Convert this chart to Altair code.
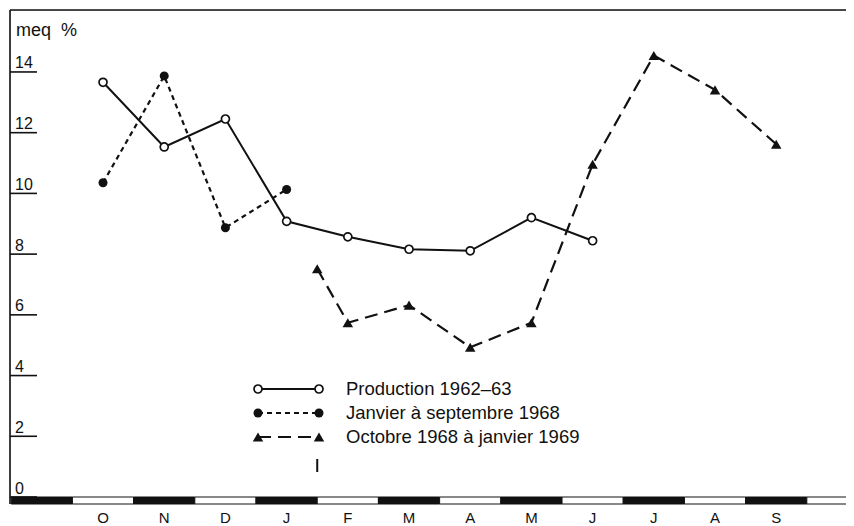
import altair as alt
import pandas as pd

# ---------------- data ----------------
months = ["O", "N", "D", "J", "F", "M", "A", "M", "J", "J", "A", "S"]

prod_x = [0, 1, 2, 3, 4, 5, 6, 7, 8]
prod_y = [13.66, 11.53, 12.45, 9.08, 8.57, 8.16, 8.11, 9.20, 8.44]

jan_x = [0, 1, 2, 3]
jan_y = [10.35, 13.87, 8.87, 10.13]

oct_x = [3.5, 4, 5, 6, 7, 8, 9, 10, 11]
oct_y = [7.52, 5.74, 6.32, 4.93, 5.74, 10.96, 14.54, 13.41, 11.62]

y_ticks = [0, 2, 4, 6, 8, 10, 12, 14]
series_names = ["Production 1962\u201363", "Janvier \u00e0 septembre 1968",
                "Octobre 1968 \u00e0 janvier 1969"]
y_unit = "meq\u00a0\u00a0%"

# ---------------- layout ----------------
W, H = 836, 487
PX_PER_MONTH = 61.2
PX_PER_UNIT = 30.36
X0 = -1.52
xdom = [X0, X0 + W / PX_PER_MONTH]
ydom = [0, H / PX_PER_UNIT]
FONT = "Liberation Sans"
INK = "#111111"

xs = alt.Scale(domain=xdom, nice=False, zero=False)
ys = alt.Scale(domain=ydom, nice=False, zero=False)
XQ = lambda f: alt.X(f, type="quantitative", scale=xs, axis=None)
YQ = lambda f: alt.Y(f, type="quantitative", scale=ys, axis=None)

prod_df = pd.DataFrame({"x": prod_x, "y": prod_y})
jan_df = pd.DataFrame({"x": jan_x, "y": jan_y})
oct_df = pd.DataFrame({"x": oct_x, "y": oct_y})
tick_df = pd.DataFrame({"v": y_ticks, "lab": [str(t) for t in y_ticks]})
month_df = pd.DataFrame({"i": list(range(len(months))), "m": months})
one = pd.DataFrame({"a": [0]})

layers = []

# frame (top and left)
layers.append(alt.Chart(one).mark_rule(color=INK, strokeWidth=1.6).encode(
    x=alt.value(0), x2=alt.value(W + 10), y=alt.value(0)))
layers.append(alt.Chart(one).mark_rule(color=INK, strokeWidth=1.6).encode(
    x=alt.value(0), y=alt.value(0), y2=alt.value(H + 7)))

# y ticks inside the frame, labels sitting on them
layers.append(alt.Chart(tick_df).mark_rule(color=INK, strokeWidth=1.6).encode(
    x=alt.value(0), x2=alt.value(27), y=YQ("v")))
layers.append(alt.Chart(tick_df).mark_text(align="left", baseline="alphabetic", dy=-3.5,
                                           font=FONT, fontSize=16, color=INK).encode(
    x=alt.value(5), y=YQ("v"), text="lab:N"))

# alternating month band along the bottom
band_df = pd.DataFrame({"i": list(range(-1, len(months) + 1))})
layers.append(
    alt.Chart(band_df)
    .transform_calculate(x0="datum.i - 0.5", x1="datum.i + 0.5")
    .mark_rect(stroke=INK, strokeWidth=1)
    .encode(
        x=XQ("x0"),
        x2="x1:Q",
        y=alt.value(H),
        y2=alt.value(H + 7),
        fill=alt.condition("datum.i % 2 != 0", alt.value(INK), alt.value("white")),
    )
)

# month labels
layers.append(alt.Chart(month_df).mark_text(align="center", baseline="alphabetic",
                                            font=FONT, fontSize=15, color=INK).encode(
    x=XQ("i"), y=alt.value(H + 26), text="m:N"))

# series lines
layers.append(alt.Chart(prod_df).mark_line(color=INK, strokeWidth=2).encode(
    x=XQ("x"), y=YQ("y")))
layers.append(alt.Chart(jan_df).mark_line(color=INK, strokeWidth=2.2, strokeDash=[5, 4]).encode(
    x=XQ("x"), y=YQ("y")))
layers.append(alt.Chart(oct_df).mark_line(color=INK, strokeWidth=2.2, strokeDash=[13, 7]).encode(
    x=XQ("x"), y=YQ("y")))

# series markers
layers.append(alt.Chart(jan_df).mark_point(shape="circle", size=81, filled=True, color=INK, opacity=1).encode(
    x=XQ("x"), y=YQ("y")))
layers.append(alt.Chart(oct_df).mark_point(shape="triangle-up", size=110, filled=True, color=INK, opacity=1).encode(
    x=XQ("x"), y=YQ("y")))
layers.append(alt.Chart(prod_df).mark_point(shape="circle", size=64, filled=True, fill="white",
                                            stroke=INK, strokeWidth=1.7, opacity=1).encode(
    x=XQ("x"), y=YQ("y")))

# unit label
layers.append(alt.Chart(one).mark_text(text=y_unit, align="left", baseline="alphabetic",
                                       font=FONT, fontSize=18, color=INK).encode(
    x=alt.value(6), y=alt.value(26)))

# legend
styles = [
    dict(dash=None, shape="circle", size=64, open=True),
    dict(dash=[5, 4], shape="circle", size=81, open=False),
    dict(dash=[13, 7], shape="triangle-up", size=110, open=False),
]
LX1, LX2, LT = 248, 309, 336
for k, (name, st) in enumerate(zip(series_names, styles)):
    ly = 379 + 24 * k
    rule_kw = dict(color=INK, strokeWidth=2.2)
    if st["dash"]:
        rule_kw["strokeDash"] = st["dash"]
    layers.append(alt.Chart(one).mark_rule(**rule_kw).encode(
        x=alt.value(LX1), x2=alt.value(LX2), y=alt.value(ly)))
    for px in (LX1, LX2):
        if st["open"]:
            m = alt.Chart(one).mark_point(shape=st["shape"], size=st["size"], filled=True, fill="white",
                                          stroke=INK, strokeWidth=1.7, opacity=1)
        else:
            m = alt.Chart(one).mark_point(shape=st["shape"], size=st["size"], filled=True,
                                          color=INK, opacity=1)
        layers.append(m.encode(x=alt.value(px), y=alt.value(ly)))
    layers.append(alt.Chart(one).mark_text(text=name, align="left", baseline="middle",
                                           font=FONT, fontSize=18.5, color=INK).encode(
        x=alt.value(LT), y=alt.value(ly)))

# small vertical marker under the start of the third series
layers.append(alt.Chart(one).mark_rule(color=INK, strokeWidth=2).encode(
    x=alt.datum(oct_x[0], type="quantitative", scale=xs, axis=None),
    y=alt.value(449), y2=alt.value(462)))

chart = (
    alt.layer(*layers)
    .properties(
        width=W, height=H,
        padding={"left": 2, "top": 2, "right": 0, "bottom": 29},
        autosize=alt.AutoSizeParams(type="none"),
        background="white",
    )
    .configure_view(stroke="transparent", strokeWidth=0)
    .configure(font=FONT)
)

chart.save("out.html", embed_options={"renderer": "svg", "actions": False})
